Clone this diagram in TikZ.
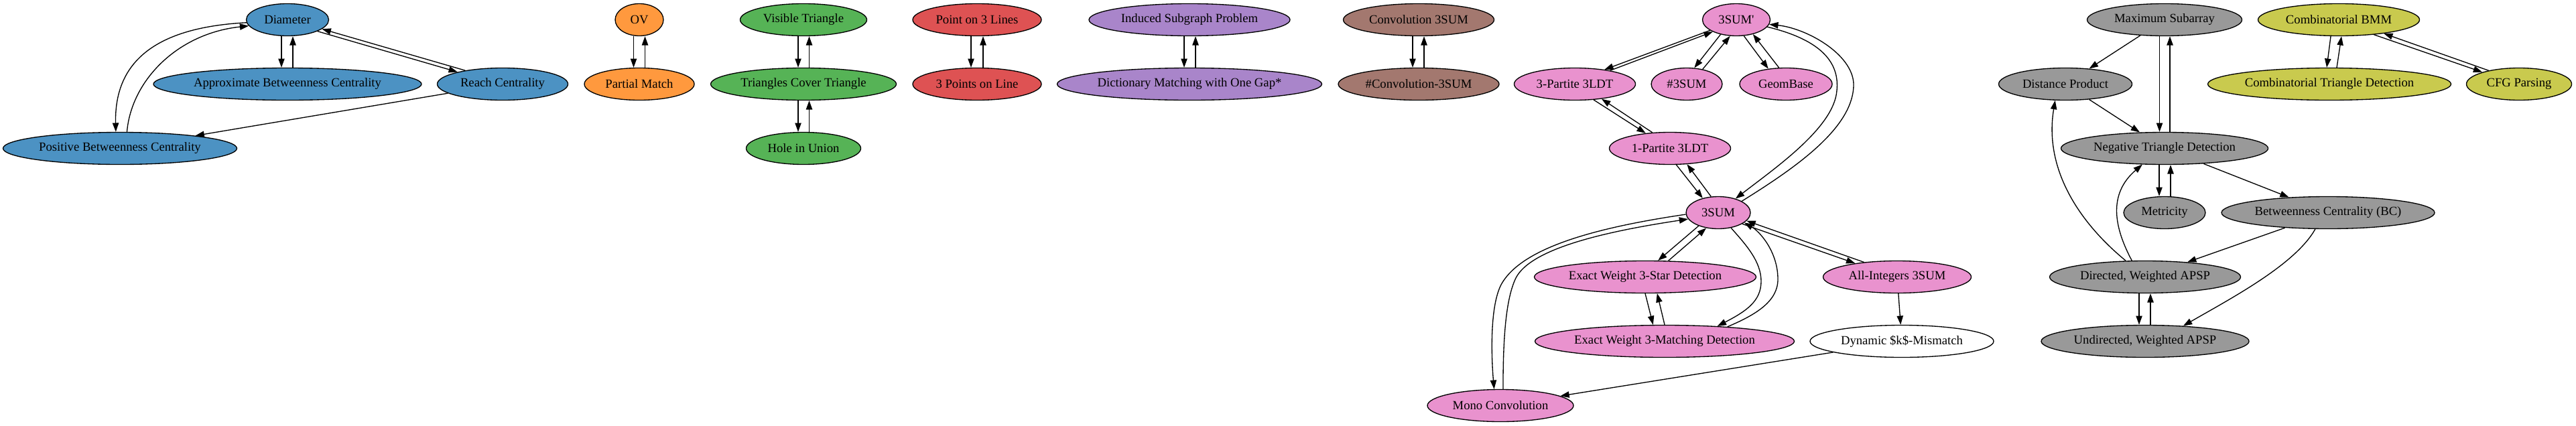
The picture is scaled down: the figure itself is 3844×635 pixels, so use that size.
\documentclass[tikz,border=0pt]{standalone}
\usepackage{fontspec}
\setmainfont{Liberation Serif}
\usetikzlibrary{shapes.geometric,arrows.meta,calc}
\definecolor{cblue}{RGB}{76,146,195}
\definecolor{corange}{RGB}{255,153,62}
\definecolor{cgreen}{RGB}{86,179,86}
\definecolor{cred}{RGB}{222,82,83}
\definecolor{cpurple}{RGB}{169,133,202}
\definecolor{cbrown}{RGB}{163,120,111}
\definecolor{cpink}{RGB}{233,146,206}
\definecolor{cgray}{RGB}{153,153,153}
\definecolor{colive}{RGB}{201,202,78}
\newcommand{\vpairedge}[4]{%
  \draw[e] ($(#1.south)+(#3,0)$) -- ($(#2.north)+(#3,0)$);
  \draw[e] ($(#2.north)+(#4,0)$) -- ($(#1.south)+(#4,0)$);}
\begin{document}
\begin{tikzpicture}[x=0.75bp,y=-0.75bp,
  gn/.style={ellipse,draw=black,line width=1bp,minimum height=36bp,inner sep=0pt,
    font=\fontsize{14bp}{16bp}\selectfont},
  nw/.style={minimum width=#1*0.75bp},
  e/.style={draw=black,line width=1bp,-{Triangle[length=10bp,width=7bp]}}]
\fill[white] (0,0) rectangle (3844,635);
\useasboundingbox (0,0) rectangle (3844,635);
% blue
\node[gn,fill=cblue,nw=123] (dia) at (429,29.5) {Diameter};
\node[gn,fill=cblue,nw=400] (abc) at (429,125.5) {Approximate Betweenness Centrality};
\node[gn,fill=cblue,nw=195] (reach) at (750,125.5) {Reach Centrality};
\node[gn,fill=cblue,nw=349] (pbc) at (179,221.5) {Positive Betweenness Centrality};
% orange
\node[gn,fill=corange,nw=72] (ov) at (954,29.5) {OV};
\node[gn,fill=corange,nw=164] (pm) at (954,125.5) {Partial Match};
% green
\node[gn,fill=cgreen,nw=189] (vt) at (1199,29.5) {Visible Triangle};
\node[gn,fill=cgreen,nw=277] (tct) at (1199,125.5) {Triangles Cover Triangle};
\node[gn,fill=cgreen,nw=171] (hiu) at (1199,221.5) {Hole in Union};
% red
\node[gn,fill=cred,nw=192] (ptl) at (1458,29.5) {Point on 3 Lines};
\node[gn,fill=cred,nw=192] (tpl) at (1458,125.5) {3 Points on Line};
% purple
\node[gn,fill=cpurple,nw=300] (isp) at (1775,29.5) {Induced Subgraph Problem};
\node[gn,fill=cpurple,nw=395] (dmog) at (1775,125.5) {Dictionary Matching with One Gap*};
% brown
\node[gn,fill=cbrown,nw=225] (cts) at (2117,29.5) {Convolution 3SUM};
\node[gn,fill=cbrown,nw=240] (ncts) at (2117,125.5) {\#Convolution-3SUM};
% pink
\node[gn,fill=cpink,nw=101] (tsp) at (2591,29.5) {3SUM\textquotesingle};
\node[gn,fill=cpink,nw=181] (pthree) at (2350,125.5) {3-Partite 3LDT};
\node[gn,fill=cpink,nw=106] (nts) at (2517,125.5) {\#3SUM};
\node[gn,fill=cpink,nw=138] (geo) at (2665,125.5) {GeomBase};
\node[gn,fill=cpink,nw=181] (pone) at (2492,221.5) {1-Partite 3LDT};
\node[gn,fill=cpink,nw=96] (ts) at (2564,317.5) {3SUM};
\node[gn,fill=cpink,nw=331] (ews) at (2455,413.5) {Exact Weight 3-Star Detection};
\node[gn,fill=cpink,nw=221] (ai) at (2831,413.5) {All-Integers 3SUM};
\node[gn,fill=cpink,nw=387] (ewm) at (2484,509.5) {Exact Weight 3-Matching Detection};
\node[gn,fill=white,nw=274] (dkm) at (2838,509.5) {Dynamic \$k\$-Mismatch};
\node[gn,fill=cpink,nw=218] (mono) at (2239,605.5) {Mono Convolution};
% gray
\node[gn,fill=cgray,nw=231] (ms) at (3230,29.5) {Maximum Subarray};
\node[gn,fill=cgray,nw=199] (dp) at (3082,125.5) {Distance Product};
\node[gn,fill=cgray,nw=309] (ntd) at (3230,221.5) {Negative Triangle Detection};
\node[gn,fill=cgray,nw=122] (met) at (3230,317.5) {Metricity};
\node[gn,fill=cgray,nw=318] (bc) at (3474,317.5) {Betweenness Centrality (BC)};
\node[gn,fill=cgray,nw=285] (dapsp) at (3201,413.5) {Directed, Weighted APSP};
\node[gn,fill=cgray,nw=310] (uapsp) at (3201,509.5) {Undirected, Weighted APSP};
% olive
\node[gn,fill=colive,nw=241] (cbmm) at (3490,29.5) {Combinatorial BMM};
\node[gn,fill=colive,nw=363] (ctd) at (3476,125.5) {Combinatorial Triangle Detection};
\node[gn,fill=colive,nw=157] (cfg) at (3759,125.5) {CFG Parsing};

% vertical pairs
\vpairedge{dia}{abc}{-9}{8}
\vpairedge{ov}{pm}{-8.5}{8.5}
\vpairedge{vt}{tct}{-8}{8.5}
\vpairedge{tct}{hiu}{-8}{8.5}
\vpairedge{ptl}{tpl}{-9}{9}
\vpairedge{isp}{dmog}{-8}{9}
\vpairedge{cts}{ncts}{-9}{8}
\vpairedge{ms}{ntd}{-7.5}{8}
\vpairedge{ntd}{met}{-8}{9}
\vpairedge{dapsp}{uapsp}{-9}{8}
\draw[e] ($(cbmm.south)+(-12,0)$) -- ($(ctd.north)+(-4,0)$);
\draw[e] ($(ctd.north)+(11,0)$) -- ($(cbmm.south)+(4,0)$);
\draw[e] (ews.-90) -- (ewm.125);
\draw[e] (ewm.90) -- (ews.-54);

% diagonal pairs
\draw[e] (dia.-21) -- (reach.165);
\draw[e] (reach.160) -- (dia.-15);
\draw[e] (tsp.202) -- (pthree.26);
\draw[e] (pthree.21) -- (tsp.207);
\draw[e] (tsp.223) -- (nts.65);
\draw[e] (nts.43) -- (tsp.249);
\draw[e] (tsp.-65) -- (geo.139);
\draw[e] (geo.113) -- (tsp.-41);
\draw[e] (pthree.-40) -- (pone.148);
\draw[e] (pone.138) -- (pthree.-29);
\draw[e] (pone.-69) -- (ts.137);
\draw[e] (ts.114) -- (pone.-43);
\draw[e] (ts.214) -- (ews.52);
\draw[e] (ews.35) -- (ts.232);
\draw[e] (ts.-25) -- (ai.162);
\draw[e] (ai.156) -- (ts.-16);
\draw[e] (cbmm.-23) -- (cfg.162);
\draw[e] (cfg.156) -- (cbmm.-17.5);

% curves
\draw[e] (dia.184) .. controls (250,40) and (170,80) .. (pbc.104);
\draw[e] (pbc.67) .. controls (196,120) and (265,50) .. (dia.189);
\draw[e] (tsp.-13) .. controls (2720,60) and (2745,95) .. (2741,135)
                   .. controls (2737,190) and (2650,250) .. (ts.39);
\draw[e] (ts.26) .. controls (2680,250) and (2767,190) .. (2766,125)
                 .. controls (2764,80) and (2695,42) .. (tsp.-8);
\draw[e] (ts.-50) .. controls (2605,365) and (2628,390) .. (2628,420)
                  .. controls (2628,450) and (2605,465) .. (ewm.16);
\draw[e] (ewm.13.5) .. controls (2620,470) and (2653,450) .. (2653,417)
                    .. controls (2653,375) and (2625,345) .. (ts.-21);
\draw[e] (ts.183) .. controls (2380,340) and (2270,370) .. (2240,425)
                  .. controls (2222,460) and (2226,540) .. (mono.111);
\draw[e] (mono.81) .. controls (2243,520) and (2245,450) .. (2262,415)
                   .. controls (2285,370) and (2400,345) .. (ts.192);
\draw[e] (bc.232) .. controls (3425,395) and (3330,445) .. (uapsp.22);
\draw[e] (dapsp.140) .. controls (3100,330) and (3050,250) .. (dp.238);
\draw[e] (dapsp.129) .. controls (3155,340) and (3145,290) .. (ntd.216);

% single straight edges
\draw[e] (reach) -- (pbc);
\draw[e] (ai) -- (dkm);
\draw[e] (dkm) -- (mono);
\draw[e] (ms) -- (dp);
\draw[e] (dp) -- (ntd);
\draw[e] (ntd) -- (bc);
\draw[e] (bc) -- (dapsp);
\end{tikzpicture}
\end{document}
